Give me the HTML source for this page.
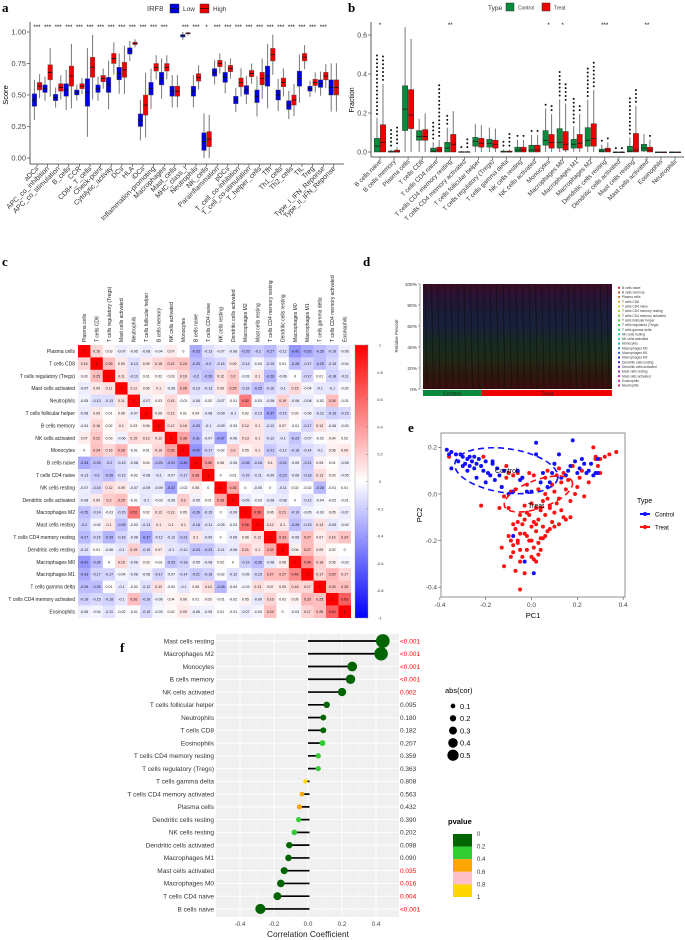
<!DOCTYPE html>
<html><head><meta charset="utf-8">
<style>
html,body{margin:0;padding:0;background:#fff;}
svg{display:block;font-family:"Liberation Sans",sans-serif;}
.pl{font-family:"Liberation Serif",serif;font-weight:bold;font-size:13px;}
</style></head>
<body>
<svg id="fig" width="685" height="940" viewBox="0 0 685 940" xmlns="http://www.w3.org/2000/svg">
<text class="pl" x="2" y="12">a</text>
<text class="pl" x="348" y="12">b</text>
<text class="pl" x="2" y="266">c</text>
<text class="pl" x="363" y="266">d</text>
<text class="pl" x="408" y="432">e</text>
<text class="pl" x="120" y="652">f</text>
</svg>
<script>
// ---------- DATA: panel a ----------
const aCats=["aDCs","APC_co_inhibition","APC_co_stimulation","B_cells","CCR","CD8+_T_cells","Check-point","Cytolytic_activity","DCs","HLA","iDCs","Inflammation-promoting","Macrophages","Mast_cells","MHC_class_I","Neutrophils","NK_cells","Parainflammation","pDCs","T_cell_co-inhibition","T_cell_co-stimulation","T_helper_cells","Tfh","Th1_cells","Th2_cells","TIL","Treg","Type_I_IFN_Reponse","Type_II_IFN_Reponse"];
const aLowMed=[0.46,0.55,0.48,0.54,0.52,0.52,0.55,0.58,0.67,0.85,0.30,0.55,0.63,0.53,0.97,0.53,0.13,0.68,0.64,0.46,0.54,0.49,0.65,0.50,0.42,0.63,0.55,0.59,0.56];
const aHighMed=[0.57,0.68,0.56,0.65,0.57,0.72,0.63,0.79,0.70,0.91,0.42,0.72,0.72,0.53,0.99,0.64,0.15,0.75,0.71,0.60,0.67,0.63,0.82,0.60,0.46,0.80,0.60,0.65,0.56];
const aLowSpread=[0.05,0.03,0.025,0.05,0.02,0.11,0.03,0.06,0.05,0.025,0.05,0.05,0.05,0.04,0.01,0.04,0.07,0.03,0.04,0.03,0.035,0.05,0.08,0.04,0.035,0.06,0.02,0.03,0.06];
const aHighSpread=[0.03,0.06,0.03,0.08,0.02,0.08,0.025,0.04,0.06,0.01,0.08,0.03,0.03,0.04,0.005,0.03,0.06,0.025,0.025,0.035,0.025,0.05,0.05,0.035,0.04,0.03,0.025,0.03,0.06];
const aSig=["***","***","***","***","***","***","***","***","***","***","***","***","***","","***","***","*","***","***","***","***","***","***","***","***","***","***","***",""];
const aTicks=[0,0.25,0.5,0.75,1.0];
// ---------- DATA: panel b ----------
const bCats=["B cells naive","B cells memory","Plasma cells","T cells CD8","T cells CD4 naive","T cells CD4 memory resting","T cells CD4 memory activated","T cells follicular helper","T cells regulatory (Tregs)","T cells gamma delta","NK cells resting","NK cells activated","Monocytes","Macrophages M0","Macrophages M1","Macrophages M2","Dendritic cells resting","Dendritic cells activated","Mast cells resting","Mast cells activated","Eosinophils","Neutrophils"];
const bCtrlQ1=[0,0,0.11,0.06,0,0,0,0.03,0.025,0,0,0,0.035,0.02,0.02,0.03,0,0,0,0.005,0,0];
const bCtrlMed=[0.03,0,0.22,0.08,0.005,0.02,0,0.055,0.045,0,0.01,0.01,0.06,0.05,0.04,0.06,0.005,0,0.005,0.02,0,0];
const bCtrlQ3=[0.07,0.005,0.34,0.11,0.02,0.05,0.002,0.075,0.065,0.005,0.025,0.035,0.11,0.12,0.065,0.125,0.015,0,0.03,0.04,0,0];
const bTrtQ1=[0,0,0.12,0.06,0,0,0,0.025,0.02,0,0,0,0.02,0.01,0.02,0.03,0,0,0,0,0,0];
const bTrtMed=[0.05,0,0.19,0.08,0.01,0.04,0,0.045,0.04,0,0.01,0.01,0.05,0.04,0.045,0.07,0.01,0,0.01,0.01,0,0];
const bTrtQ3=[0.14,0.01,0.32,0.115,0.025,0.09,0.002,0.07,0.06,0.005,0.025,0.035,0.09,0.105,0.09,0.145,0.02,0,0.095,0.025,0,0];
const bCtrlMax=[0.50,0.13,0.64,0.17,0.16,0.20,0.04,0.15,0.14,0.07,0.10,0.12,0.26,0.41,0.28,0.43,0.07,0.035,0.28,0.10,0.005,0.003];
const bTrtMax=[0.50,0.13,0.58,0.21,0.36,0.21,0.07,0.15,0.13,0.10,0.10,0.12,0.24,0.36,0.24,0.47,0.07,0.035,0.33,0.09,0.005,0.003];
const bSig=["*","","","","","**","","","","","","","*","*","","","***","","","**","",""];
const bTicks=[0,0.2,0.4,0.6];
// ---------- DATA: panel c ----------
const cLabels=["Plasma cells","T cells CD8","T cells regulatory (Tregs)","Mast cells activated","Neutrophils","T cells follicular helper","B cells memory","NK cells activated","Monocytes","B cells naive","T cells CD4 naive","NK cells resting","Dendritic cells activated","Macrophages M2","Mast cells resting","T cells CD4 memory resting","Dendritic cells resting","Macrophages M0","Macrophages M1","T cells gamma delta","T cells CD4 memory activated","Eosinophils"];
const cRow1=[1,0.16,0.03,-0.07,-0.05,-0.08,-0.04,0.07,0,-0.33,-0.13,-0.07,-0.08,-0.25,-0.2,-0.27,-0.12,-0.41,-0.33,-0.26,-0.19,-0.06];
const cRow2=[0.16,1,0.25,0.09,-0.13,0.09,0.16,0.22,0.24,-0.25,-0.2,-0.15,0.09,-0.14,-0.04,-0.15,0.01,-0.26,-0.17,-0.25,-0.15,-0.04];
const cRow3=[0.03,0.25,1,0.11,-0.13,0.01,0.02,0.03,0.16,-0.2,-0.26,0.12,0.2,-0.03,0.1,-0.29,-0.06,0,-0.17,0.01,-0.18,-0.11];
const cRow4=[-0.07,0.09,0.11,1,0.11,0.06,0.1,-0.06,0.28,-0.13,-0.13,0.09,0.25,-0.15,-0.25,-0.16,-0.1,0.15,-0.04,-0.1,-0.1,-0.02];
const cRow5=[-0.05,-0.13,-0.13,0.11,1,-0.07,0.03,0.15,-0.01,-0.08,-0.02,-0.07,-0.01,0.52,-0.03,-0.08,0.19,-0.08,-0.08,-0.02,0.26,-0.01];
const cRow6=[-0.08,0.09,0.01,0.06,-0.07,1,0.06,0.13,0.01,0.04,-0.08,-0.09,-0.1,0.02,-0.13,-0.37,-0.15,0.03,-0.06,-0.12,-0.19,-0.15];
const cRow7=[-0.04,0.16,0.02,0.1,0.03,0.06,1,0.12,0.16,-0.25,-0.1,-0.09,-0.03,0.12,0.1,-0.12,0.07,-0.01,-0.17,0.12,-0.06,-0.03];
const cRow8=[0.07,0.22,0.03,-0.06,0.15,0.13,0.12,1,0.36,-0.31,-0.07,-0.37,-0.06,0.13,0.1,-0.12,-0.1,-0.23,-0.07,-0.02,0.04,0.02];
const cRow9=[0,0.24,0.16,0.28,-0.01,0.01,0.16,0.36,1,-0.42,-0.17,-0.02,0.2,0.05,0.1,-0.21,-0.12,-0.18,-0.14,-0.1,0.06,0.09];
const cRow10=[-0.33,-0.25,-0.2,-0.13,-0.08,0.04,-0.25,-0.31,-0.42,1,0.38,0.06,-0.05,-0.26,-0.18,0.1,-0.24,-0.05,-0.21,0.05,0.01,-0.06];
const cRow11=[-0.13,-0.2,-0.26,-0.13,-0.02,-0.08,-0.1,-0.07,-0.17,0.38,1,0,0.01,-0.15,-0.11,-0.09,-0.23,-0.08,-0.18,0.13,0.03,-0.05];
const cRow12=[-0.07,-0.15,0.12,0.09,-0.07,-0.09,-0.09,-0.37,-0.02,0.06,0,1,0.35,0,-0.05,0,-0.11,0.02,-0.02,-0.28,-0.01,0.01];
const cRow13=[-0.08,0.09,0.2,0.25,-0.01,-0.1,-0.03,-0.06,0.2,-0.05,0.01,0.35,1,-0.09,-0.03,-0.08,-0.08,0,-0.12,-0.04,-0.02,-0.01];
const cRow14=[-0.25,-0.14,-0.03,-0.15,0.52,0.02,0.12,0.13,0.05,-0.26,-0.15,0,-0.09,1,0.56,0.06,0.21,-0.19,-0.05,-0.03,0.05,-0.07];
const cRow15=[-0.2,-0.04,0.1,-0.25,-0.03,-0.13,0.1,0.1,0.1,-0.18,-0.11,-0.05,-0.03,0.56,1,0.12,0.1,-0.26,-0.15,0.13,-0.09,-0.04];
const cRow16=[-0.27,-0.15,-0.29,-0.16,-0.08,-0.37,-0.12,-0.12,-0.21,0.1,-0.09,0,-0.08,0.06,0.12,1,0.33,-0.08,0.27,0.07,0.16,0.24];
const cRow17=[-0.12,0.01,-0.06,-0.1,0.19,-0.15,0.07,-0.1,-0.12,-0.24,-0.23,-0.11,-0.08,0.21,0.1,0.33,1,0.06,0.27,0.09,0.02,0];
const cRow18=[-0.41,-0.26,0,0.15,-0.08,0.03,-0.01,-0.23,-0.18,-0.05,-0.08,0.02,0,-0.19,-0.26,-0.08,0.06,1,0.46,0.18,0.05,-0.03];
const cRow19=[-0.33,-0.17,-0.17,-0.04,-0.08,-0.06,-0.17,-0.07,-0.14,-0.21,-0.18,-0.02,-0.12,-0.05,-0.15,0.27,0.27,0.46,1,0.17,0.29,0.17];
const cRow20=[-0.26,-0.25,0.01,-0.1,-0.02,-0.12,0.12,-0.02,-0.1,0.05,0.13,-0.28,-0.04,-0.03,0.13,0.07,0.09,0.18,0.17,1,0.25,0.25];
const cRow21=[-0.19,-0.15,-0.18,-0.1,0.26,-0.19,-0.06,0.04,0.06,0.01,0.03,-0.01,-0.02,0.05,-0.09,0.16,0.02,0.05,0.29,0.25,1,0.63];
const cRow22=[-0.06,-0.04,-0.11,-0.02,-0.01,-0.15,-0.03,0.02,0.09,-0.06,-0.05,0.01,-0.01,-0.07,-0.04,0.24,0,-0.03,0.17,0.25,0.63,1];
const cScaleTicks=["1","0.8","0.6","0.4","0.2","0","-0.2","-0.4","-0.6","-0.8","-1"];
// ---------- DATA: panel d ----------
const dLegend=bCats;
const dTicks=["0%","20%","40%","60%","80%","100%"];
// ---------- DATA: panel e ----------
const eCtrlX=[-0.37,-0.36,-0.35,-0.35,-0.33,-0.32,-0.31,-0.30,-0.30,-0.29,-0.28,-0.28,-0.27,-0.27,-0.26,-0.25,-0.25,-0.24,-0.23,-0.22,-0.21,-0.20,-0.19,-0.18,-0.17,-0.16,-0.15,-0.14,-0.13,-0.12,-0.10,-0.08,-0.06,-0.04,-0.02,0.00,0.02,0.04,0.05,0.07,0.08,0.09,0.10,0.12,0.13,0.15,0.16,0.17,0.18,0.19,0.20,0.21,0.22,0.23,0.24,0.25,0.26,0.27,0.28,0.29,0.29,-0.08,-0.03,0.01,0.02,-0.17,-0.20,-0.05,-0.24];
const eCtrlY=[0.19,0.17,0.18,0.11,0.17,0.14,0.17,0.12,0.16,0.13,0.15,0.10,0.16,0.12,0.14,0.11,0.16,0.13,0.15,0.12,0.10,0.14,0.09,0.08,0.13,0.06,0.11,0.08,0.03,0.10,0.00,0.01,0.10,0.07,0.01,0.01,0.22,0.05,0.09,0.03,0.05,0.09,0.13,0.17,0.07,0.08,0.10,0.12,0.23,0.14,0.09,0.11,0.15,0.13,0.09,0.10,0.13,0.08,0.09,0.15,0.09,-0.18,-0.29,-0.34,0.17,0.14,0.05,0.06,0.07];
const eTrtX=[-0.36,-0.21,-0.22,-0.13,-0.12,-0.11,-0.10,-0.10,-0.09,-0.08,-0.08,-0.07,-0.07,-0.06,-0.06,-0.05,-0.05,-0.04,-0.04,-0.03,-0.03,-0.02,-0.02,-0.01,-0.01,0.00,0.00,0.01,0.01,0.02,0.02,0.03,0.03,0.04,0.04,0.05,0.05,0.06,0.06,0.07,0.07,0.08,0.08,0.09,0.09,0.10,0.10,0.11,0.11,0.12,0.12,0.13,0.13,0.14,0.15,0.15,0.16,0.17,0.18,0.19,0.20,0.21,0.22,0.23,0.25,0.27,0.28,0.29,0.30,0.32,0.34,0.37,-0.13,-0.12,-0.09,-0.08,-0.07,-0.06,-0.05,-0.04,-0.03,-0.02,0.00,0.01,0.02,0.03,0.04,-0.10,-0.09,-0.08,-0.06,-0.05,-0.03,-0.01,0.01,0.03,0.05,0.07,0.10,0.12,0.14,0.17,-0.05,-0.14,0.28,0.30,0.06,0.08,-0.11,0.00,0.02,-0.02,0.04,0.06];
const eTrtY=[0.16,0.16,-0.05,0.03,-0.01,0.07,-0.06,0.09,0.01,-0.13,0.08,-0.15,0.02,-0.12,0.09,-0.09,-0.17,-0.13,0.07,-0.11,-0.05,-0.18,0.04,-0.09,0.09,-0.14,-0.04,-0.12,0.08,-0.16,-0.06,-0.11,0.02,-0.19,-0.07,-0.03,-0.14,0.07,-0.09,-0.02,0.10,-0.15,-0.06,0.04,-0.12,0.01,-0.08,0.08,-0.04,0.11,-0.02,0.05,-0.07,0.09,-0.11,0.02,0.06,-0.03,0.12,0.00,0.03,0.07,0.10,-0.01,0.05,0.20,0.16,0.12,0.15,0.16,0.17,0.18,-0.23,-0.31,-0.27,-0.25,-0.33,-0.21,-0.29,-0.27,-0.34,-0.24,-0.27,-0.28,-0.29,-0.26,-0.24,-0.18,-0.20,-0.22,-0.20,-0.24,-0.17,-0.20,-0.23,-0.21,-0.19,-0.16,-0.14,-0.13,-0.10,-0.10,-0.41,-0.06,0.15,0.09,0.00,-0.05,0.12,-0.20,-0.13,-0.08,-0.06,-0.18];
const eTicksX=[-0.4,-0.2,0.0,0.2,0.4];
const eTicksY=[-0.4,-0.2,0.0,0.2];
// ---------- DATA: panel f ----------
const fCats=["Mast cells resting","Macrophages M2","Monocytes","B cells memory","NK cells activated","T cells follicular helper","Neutrophils","T cells CD8","Eosinophils","T cells CD4 memory resting","T cells regulatory (Tregs)","T cells gamma delta","T cells CD4 memory activated","Plasma cells","Dendritic cells resting","NK cells resting","Dendritic cells activated","Macrophages M1","Mast cells activated","Macrophages M0","T cells CD4 naive","B cells naive"];
const fCor=[0.44,0.43,0.26,0.25,0.20,0.11,0.09,0.09,0.085,0.06,0.06,-0.015,-0.035,-0.05,-0.055,-0.08,-0.11,-0.115,-0.14,-0.16,-0.18,-0.28];
const fP=[0.0005,0.0005,0.0005,0.0005,0.002,0.095,0.180,0.182,0.207,0.359,0.363,0.808,0.563,0.432,0.390,0.202,0.098,0.090,0.035,0.016,0.004,0.0005];
const fPText=["<0.001","<0.001","<0.001","<0.001","0.002","0.095","0.180","0.182","0.207","0.359","0.363","0.808","0.563","0.432","0.390","0.202","0.098","0.090","0.035","0.016","0.004","<0.001"];
const fTicks=[-0.4,-0.2,0.0,0.2,0.4];
const fSizeLegend=[0.1,0.2,0.3,0.4,0.5];
const fPLegend=["0","0.2","0.4","0.6","0.8","1"];

const svg=document.getElementById('fig');
const NS="http://www.w3.org/2000/svg";
function el(tag,attrs,parent){const e=document.createElementNS(NS,tag);for(const k in attrs)e.setAttribute(k,attrs[k]);(parent||svg).appendChild(e);return e;}
function txt(s,attrs,parent){const e=el('text',attrs,parent);e.textContent=s;return e;}

// ================= PANEL A =================
const gA=el('g',{});


const aY=v=>158-126*v;
const aX=i=>37+i*10.6;
el('line',{x1:30,y1:22,x2:30,y2:164,stroke:'#333','stroke-width':0.8},gA);
el('line',{x1:30,y1:164,x2:344,y2:164,stroke:'#333','stroke-width':0.8},gA);
aTicks.forEach(t=>{
  el('line',{x1:27,x2:30,y1:aY(t),y2:aY(t),stroke:'#333','stroke-width':0.6},gA);
  const l=txt(t.toFixed(2),{x:26,y:aY(t)+2.5,'font-size':7.5,'text-anchor':'end',fill:'#444'},gA);
  
  
});
const aYt=txt('Score',{x:0,y:0,'font-size':7.5,'text-anchor':'middle',transform:'translate(8,95) rotate(-90)'},gA);


function boxA(cx,med,sp,col,g){
  const q1=med-sp,q3=med+sp,lo=Math.max(0,med-sp*3.2),hi=Math.min(1,med+sp*3.2);
  el('line',{x1:cx,x2:cx,y1:aY(hi),y2:aY(lo),stroke:'#777','stroke-width':1},g);
  el('rect',{x:cx-2.3,y:aY(q3),width:4.6,height:Math.max(1,aY(q1)-aY(q3)),fill:col,stroke:'#555','stroke-width':0.4},g);
  el('line',{x1:cx-2.3,x2:cx+2.3,y1:aY(med),y2:aY(med),stroke:'#111','stroke-width':0.8},g);
}
aCats.forEach((c,i)=>{
  const cx=aX(i);
  const g=el('g',{},gA);
  
  
  boxA(cx-2.6,aLowMed[i],aLowSpread[i],'#0000dd',g);
  boxA(cx+2.6,aHighMed[i],aHighSpread[i],'#ee0000',g);
  el('line',{x1:cx,x2:cx,y1:164,y2:167,stroke:'#333','stroke-width':0.6},gA);
  const l=txt(c,{x:cx+2,y:169,'font-size':7,'text-anchor':'end',fill:'#333',transform:`rotate(-45 ${cx+2} 169)`},gA);
  
  
  if(aSig[i]){const s=txt(aSig[i],{x:cx,y:29,'font-size':6,'text-anchor':'middle'},gA);
    
    }
});
const lgA=el('g',{},gA);


txt('IRF8',{x:147,y:11,'font-size':7.5,fill:'#333'},lgA);
el('rect',{x:170,y:4,width:9,height:9,fill:'#0000dd',stroke:'#333','stroke-width':0.5},lgA);
el('line',{x1:170,x2:179,y1:8.5,y2:8.5,stroke:'#111','stroke-width':0.7},lgA);
txt('Low',{x:183,y:11,'font-size':6.5,fill:'#333'},lgA);
el('rect',{x:200,y:4,width:9,height:9,fill:'#ee0000',stroke:'#333','stroke-width':0.5},lgA);
el('line',{x1:200,x2:209,y1:8.5,y2:8.5,stroke:'#111','stroke-width':0.7},lgA);
txt('High',{x:213,y:11,'font-size':6.5,fill:'#333'},lgA);

// ================= PANEL B =================
const gB=el('g',{});


const bY=v=>152-195*v;
const bX=i=>380+i*14.05;
el('line',{x1:371,y1:22,x2:371,y2:157,stroke:'#333','stroke-width':0.8},gB);
el('line',{x1:371,y1:157,x2:684,y2:157,stroke:'#333','stroke-width':0.8},gB);
bTicks.forEach(t=>{
  el('line',{x1:368,x2:371,y1:bY(t),y2:bY(t),stroke:'#333','stroke-width':0.6},gB);
  const l=txt(t.toFixed(1),{x:367,y:bY(t)+2.5,'font-size':7,'text-anchor':'end',fill:'#444'},gB);
  
  
});
const bYt=txt('Fraction',{x:0,y:0,'font-size':7,'text-anchor':'middle',transform:'translate(354,100) rotate(-90)'},gB);


function boxB(cx,q1,med,q3,mx,col,g){
  const iqr=q3-q1;const wt=Math.min(mx,q3+1.5*iqr);
  el('line',{x1:cx,x2:cx,y1:bY(wt),y2:bY(Math.max(0,q1-1.5*iqr)),stroke:'#777','stroke-width':1},g);
  for(let v=wt+0.02;v<=mx+0.0001;v+=0.02){el('circle',{cx:cx,cy:bY(v),r:1.0,fill:'#111'},g);}
  el('rect',{x:cx-2.7,y:bY(q3),width:5.4,height:Math.max(0.8,bY(q1)-bY(q3)),fill:col,stroke:'#222','stroke-width':0.4},g);
  el('line',{x1:cx-2.7,x2:cx+2.7,y1:bY(med),y2:bY(med),stroke:'#111','stroke-width':0.7},g);
}
bCats.forEach((c,i)=>{
  const cx=bX(i);
  const g=el('g',{},gB);
  
  
  boxB(cx-3,bCtrlQ1[i],bCtrlMed[i],bCtrlQ3[i],bCtrlMax[i],'#0a8a3c',g);
  boxB(cx+3,bTrtQ1[i],bTrtMed[i],bTrtQ3[i],bTrtMax[i],'#ee0000',g);
  el('line',{x1:cx,x2:cx,y1:157,y2:160,stroke:'#333','stroke-width':0.6},gB);
  const l=txt(c,{x:cx+2,y:162,'font-size':6.3,'text-anchor':'end',fill:'#333',transform:`rotate(-45 ${cx+2} 162)`},gB);
  
  
  if(bSig[i]){const s=txt(bSig[i],{x:cx,y:27,'font-size':6,'text-anchor':'middle'},gB);
    
    }
});
const lgB=el('g',{},gB);


txt('Type',{x:488,y:10,'font-size':6.5,fill:'#333'},lgB);
el('rect',{x:506,y:3,width:8,height:8,fill:'#0a8a3c',stroke:'#333','stroke-width':0.5},lgB);
txt('Control',{x:518,y:9.5,'font-size':5,fill:'#333'},lgB);
el('rect',{x:542,y:3,width:8,height:8,fill:'#ee0000',stroke:'#333','stroke-width':0.5},lgB);
txt('Treat',{x:554,y:9.5,'font-size':5,fill:'#333'},lgB);

// ================= PANEL C =================
const gC=el('g',{});


const cMat=[cRow1,cRow2,cRow3,cRow4,cRow5,cRow6,cRow7,cRow8,cRow9,cRow10,cRow11,cRow12,cRow13,cRow14,cRow15,cRow16,cRow17,cRow18,cRow19,cRow20,cRow21,cRow22];
const cx0=78,cy0=345,cs=12.4;
function corCol(v){const a=Math.min(1,Math.abs(v));const k=Math.round(255*(1-a));return v>=0?`rgb(255,${k},${k})`:`rgb(${k},${k},255)`;}
cMat.forEach((row,r)=>{
  row.forEach((v,c)=>{
    const rc=el('rect',{x:cx0+c*cs,y:cy0+r*cs,width:cs+0.2,height:cs+0.2,fill:corCol(v)},gC);
    
    
    txt(String(v),{x:cx0+c*cs+cs/2,y:cy0+r*cs+cs/2+1.3,'font-size':3.6,'text-anchor':'middle',fill:'#111'},gC);
  });
  const l=txt(cLabels[r],{x:cx0-3,y:cy0+r*cs+cs/2+1.8,'font-size':5,'text-anchor':'end',fill:'#222'},gC);
  
  
  const cl=txt(cLabels[r],{x:cx0+r*cs+cs/2+1.8,y:cy0-3,'font-size':5,fill:'#222',transform:`rotate(-90 ${cx0+r*cs+cs/2+1.8} ${cy0-3})`},gC);
  
  
});
const defs=el('defs',{});
const lg=el('linearGradient',{id:'cbar',x1:0,y1:0,x2:0,y2:1},defs);
el('stop',{offset:'0','stop-color':'#ff0000'},lg);el('stop',{offset:'0.5','stop-color':'#ffffff'},lg);el('stop',{offset:'1','stop-color':'#0000ff'},lg);
const cbar=el('rect',{x:355,y:345,width:13,height:273,fill:'url(#cbar)',stroke:'#999','stroke-width':0.4},gC);


cScaleTicks.forEach((t,i)=>{
  const y=345+i*27.3;
  el('line',{x1:366,x2:368,y1:y,y2:y,stroke:'#666','stroke-width':0.4},gC);
  txt(t,{x:380,y:y+1.5,'font-size':4,fill:'#333','text-anchor':'middle'},gC);
});

// ================= PANEL D =================
const gD=el('g',{});


const dgr=el('linearGradient',{id:'dfill',x1:0,y1:1,x2:0,y2:0},defs);
[['0','#3a0e0e'],['0.15','#2c1a10'],['0.3','#1d2a18'],['0.45','#162a22'],['0.6','#18203a'],['0.75','#1c1c38'],['0.9','#2a1232'],['1','#3a0e24']].forEach(s=>el('stop',{offset:s[0],'stop-color':s[1]},dgr));
el('rect',{x:423,y:284,width:189,height:105,fill:'url(#dfill)'},gD);
for(let x=425;x<612;x+=6.5){el('line',{x1:x,x2:x+2,y1:284,y2:389,stroke:'#0a0a0a','stroke-width':0.8,opacity:0.6},gD);}
el('line',{x1:420,x2:420,y1:284,y2:389,stroke:'#555','stroke-width':0.6},gD);
dTicks.forEach((t,i)=>{const y=389-i*21;
  el('line',{x1:418,x2:420,y1:y,y2:y,stroke:'#555','stroke-width':0.5},gD);
  txt(t,{x:417,y:y+1.8,'font-size':4.8,'text-anchor':'end',fill:'#333'},gD);});
txt('Relative Percent',{x:0,y:0,'font-size':4.5,'text-anchor':'middle',fill:'#333',transform:'translate(398,336) rotate(-90)'},gD);
const ctl=el('rect',{x:423,y:390,width:59,height:6,fill:'#0a8a3c'},gD);


const trt=el('rect',{x:482,y:390,width:130,height:6,fill:'#ee0000'},gD);


txt('Control',{x:452,y:395.5,'font-size':5.5,'text-anchor':'middle',fill:'#222'},gD);
txt('Treat',{x:547,y:395.5,'font-size':5.5,'text-anchor':'middle',fill:'#222'},gD);
dLegend.forEach((c,i)=>{
  const y=288+i*4.65;const hue=Math.round(i*330/21);
  el('rect',{x:618,y:y-1.2,width:2,height:2,fill:`hsl(${hue},70%,50%)`},gD);
  const l=txt(c,{x:622,y:y+0.9,'font-size':3.3,fill:'#333'},gD);
  
  
});

// ================= PANEL E =================
const gE=el('g',{});


const eX=v=>531.5+229*v, eY=v=>494-233*v;
el('rect',{x:441,y:433,width:184,height:164,fill:'#fff',stroke:'#777','stroke-width':0.8},gE);
eTicksX.forEach(t=>{el('line',{x1:eX(t),x2:eX(t),y1:597,y2:600,stroke:'#555','stroke-width':0.6},gE);
  txt(t.toFixed(1),{x:eX(t),y:607,'font-size':6.5,'text-anchor':'middle',fill:'#444'},gE);});
eTicksY.forEach(t=>{el('line',{x1:438,x2:441,y1:eY(t),y2:eY(t),stroke:'#555','stroke-width':0.6},gE);
  txt(t.toFixed(1),{x:437,y:eY(t)+2.3,'font-size':6.5,'text-anchor':'end',fill:'#444'},gE);});
const ex=txt('PC1',{x:533,y:618,'font-size':7.5,'text-anchor':'middle'},gE);


const ey=txt('PC2',{x:0,y:0,'font-size':7.5,'text-anchor':'middle',transform:'translate(422,515) rotate(-90)'},gE);


eTrtX.forEach((x,i)=>{const p=el('circle',{cx:eX(x),cy:eY(eTrtY[i]),r:2.0,fill:'#ff1010'},gE);
  
  });
eCtrlX.forEach((x,i)=>{const p=el('circle',{cx:eX(x),cy:eY(eCtrlY[i]),r:2.0,fill:'#1010ff'},gE);
  
  });
el('ellipse',{cx:eX(-0.11),cy:eY(0.1),rx:52,ry:22,fill:'none',stroke:'#1010ff','stroke-width':1.6,'stroke-dasharray':'6 4',transform:`rotate(8 ${eX(-0.11)} ${eY(0.1)})`},gE);
el('ellipse',{cx:eX(0.03),cy:eY(0.0),rx:36,ry:14,fill:'none',stroke:'#ff1010','stroke-width':1.6,'stroke-dasharray':'6 4',transform:`rotate(-20 ${eX(0.03)} ${eY(0.0)})`},gE);
txt('Control',{x:eX(-0.11),y:eY(0.09),'font-size':7,'text-anchor':'middle'},gE);
txt('Treat',{x:eX(0.02),y:eY(-0.06),'font-size':7,'text-anchor':'middle'},gE);
const lgE=el('g',{},gE);


txt('Type',{x:637,y:503,'font-size':7},lgE);
el('line',{x1:640,x2:650,y1:514,y2:514,stroke:'#1010ff','stroke-width':2},lgE);el('circle',{cx:645,cy:514,r:2,fill:'#1010ff'},lgE);
txt('Control',{x:655,y:516.5,'font-size':6},lgE);
el('line',{x1:640,x2:650,y1:527,y2:527,stroke:'#ff1010','stroke-width':2},lgE);el('circle',{cx:645,cy:527,r:2,fill:'#ff1010'},lgE);
txt('Treat',{x:655,y:529.5,'font-size':6},lgE);

// ================= PANEL F =================
const gF=el('g',{});


const fX=v=>308+170*v, fY=i=>641+i*12.76;
el('rect',{x:216,y:634,width:183,height:283,fill:'#f0f0f0'},gF);
fTicks.forEach(t=>{el('line',{x1:fX(t),x2:fX(t),y1:634,y2:917,stroke:'#fff','stroke-width':0.9},gF);
  txt(t.toFixed(1),{x:fX(t),y:926,'font-size':6.3,'text-anchor':'middle',fill:'#444'},gF);});
[-0.3,-0.1,0.1,0.3].forEach(t=>el('line',{x1:fX(t),x2:fX(t),y1:634,y2:917,stroke:'#fafafa','stroke-width':0.5},gF));
const fxT=txt('Correlation Coefficient',{x:308,y:937,'font-size':8.3,'text-anchor':'middle',fill:'#222'},gF);


function pCol(p){return p<0.2?'#006400':p<0.4?'#32cd32':p<0.6?'#ffa500':p<0.8?'#ffc0cb':'#ffd700';}
const fR=a=>2+11*Math.abs(a);
fCats.forEach((c,i)=>{
  const y=fY(i);
  el('line',{x1:216,x2:399,y1:y,y2:y,stroke:'#fff','stroke-width':0.9},gF);
  const g=el('g',{},gF);
  
  
  el('line',{x1:fX(0)+(fCor[i]<0?1.5:0),x2:fX(fCor[i]),y1:y,y2:y,stroke:'#000','stroke-width':1.7},g);
  el('circle',{cx:fX(fCor[i]),cy:y,r:fR(fCor[i]),fill:pCol(fP[i])},g);
  const l=txt(c,{x:214,y:y+2.3,'font-size':6.5,'text-anchor':'end',fill:'#333'},gF);
  
  
  const pt=txt(fPText[i],{x:400,y:y+2.3,'font-size':6.5,fill:fP[i]<0.05?'#ff0000':'#333'},gF);
  
  
});
const lgF=el('g',{},gF);


txt('abs(cor)',{x:445,y:693,'font-size':7.5},lgF);
fSizeLegend.forEach((s,i)=>{const y=706+i*12.3;el('circle',{cx:453,cy:y,r:fR(s)*0.75,fill:'#000'},lgF);
  txt(String(s),{x:460,y:y+2.8,'font-size':7.5},lgF);});
const lgP=el('g',{},gF);


txt('pvalue',{x:448,y:824,'font-size':7.5,'font-weight':'bold'},lgP);
['#006400','#32cd32','#ffa500','#ffc0cb','#ffd700'].forEach((c,i)=>el('rect',{x:453,y:834+i*12.6,width:19,height:12.6,fill:c},lgP));
fPLegend.forEach((t,i)=>txt(t,{x:477,y:836+i*12.6,'font-size':6,fill:'#333'},lgP));
</script>
</body></html>
